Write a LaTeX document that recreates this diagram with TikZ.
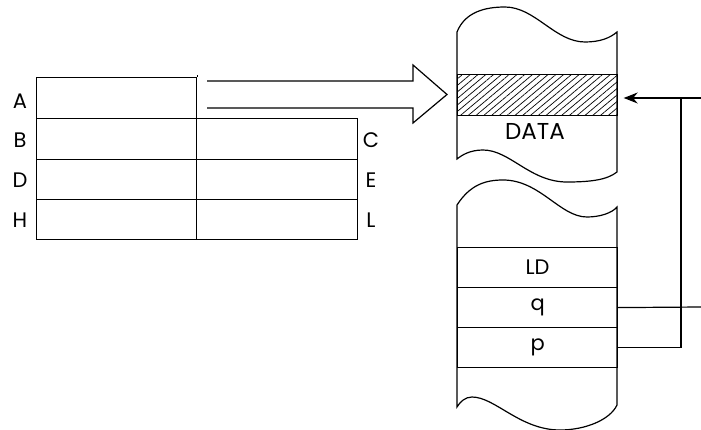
\documentclass[tikz,border=0pt]{standalone}
\usepackage{fontspec}
\setmainfont{Poppins}
\usetikzlibrary{patterns.meta,arrows.meta}
\begin{document}
\begin{tikzpicture}[x=1pt,y=-1pt,
  ln/.style={line width=1.2pt,black},
  cell/.style={draw,ln,rectangle,inner sep=0pt,anchor=north west},
  lbl/.style={font=\fontsize{21}{21}\selectfont,inner sep=0pt},
  rowtxt/.style={font=\fontsize{21}{21}\selectfont,inner sep=0pt}]
\useasboundingbox (0,0) rectangle (701,430);
\fill[white] (0,0) rectangle (701,430);
% table
\node[cell,minimum width=160pt,minimum height=41pt] (cA) at (36,77) {};
\node[cell,minimum width=160pt,minimum height=41pt] (cB) at (36,118) {};
\node[cell,minimum width=161pt,minimum height=41pt] (cC) at (196,118) {};
\node[cell,minimum width=160pt,minimum height=40pt] (cD) at (36,159) {};
\node[cell,minimum width=161pt,minimum height=40pt] (cE) at (196,159) {};
\node[cell,minimum width=160pt,minimum height=40pt] (cH) at (36,199) {};
\node[cell,minimum width=161pt,minimum height=40pt] (cL) at (196,199) {};
\draw[ln] (cA.north east) -- ++(0,-2);
\node[lbl] (lA) at (20,101) {A};
\node[lbl] (lB) at (20,140) {B};
\node[lbl] (lD) at (20,180) {D};
\node[lbl] (lH) at (20,220) {H};
\node[lbl] (lC) at (371,140) {C};
\node[lbl] (lE) at (371,180) {E};
\node[lbl] (lL) at (371,220) {L};
% block arrow
\draw[ln,line join=miter] (207,81) -- (413,81) -- (413,65) -- (447,94.5) -- (413,123) -- (413,108) -- (207,108);
% top memory block
\draw[ln] (457,159) -- (457,32) .. controls (465,12) and (485,7) .. (505,7)
  .. controls (535,7) and (555,42) .. (585,42) .. controls (600,42) and (610,38) .. (617,32)
  -- (617,172) .. controls (607,180) and (590,182) .. (567,182)
  .. controls (530,182) and (510,150) .. (483,150) .. controls (470,150) and (462,155) .. (457,159) -- cycle;
\node[draw,ln,rectangle,inner sep=0pt,anchor=north west,minimum width=160pt,minimum height=41pt,
  pattern={Lines[angle=40,distance=5pt,line width=0.7pt]}] (hatch) at (457,74) {};
\node[rowtxt,font=\fontsize{23}{23}\selectfont] (data) at (535,131) {DATA};
% lower memory block
\draw[ln] (457,407) -- (457,205) .. controls (470,185) and (485,180) .. (503,180)
  .. controls (540,180) and (560,217) .. (587,217) .. controls (600,217) and (612,213) .. (617,207)
  -- (617,405) .. controls (610,420) and (585,430) .. (560,430)
  .. controls (520,430) and (495,397) .. (472,397) .. controls (465,397) and (460,402) .. (457,407) -- cycle;
\node[cell,minimum width=160pt,minimum height=40pt] (rLD) at (457,247) {};
\node[cell,minimum width=160pt,minimum height=40pt] (rq) at (457,287) {};
\node[cell,minimum width=160pt,minimum height=40pt] (rp) at (457,327) {};
\node[rowtxt] at (rLD.center) {LD};
\node[rowtxt] at (rq.center) {q};
\node[rowtxt] at (rp.center) {p};
% connectors
\coordinate (R1) at (701,98);
\coordinate (R2) at (701,307);
\coordinate (J) at (681,98);
\draw[ln,-{Stealth[length=14pt,width=11pt]},shorten >=6pt] (R1) -- (hatch.east |- R1);
\draw[ln] (rp.east) -| (J);
\draw[ln] (rq.east) -- (R2);
\end{tikzpicture}
\end{document}
